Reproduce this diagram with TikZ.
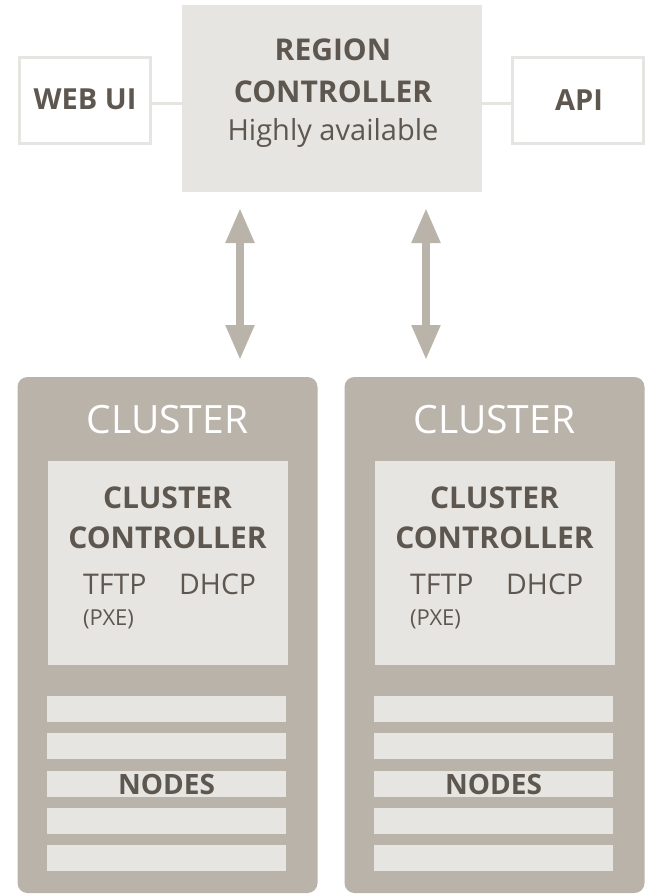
\documentclass[tikz,border=0pt]{standalone}
\usepackage{fontspec}
\setmainfont{Open Sans}
\usetikzlibrary{arrows.meta}
\definecolor{ink}{HTML}{5E574F}
\definecolor{pale}{HTML}{E7E5E2}
\definecolor{stone}{HTML}{B9B3AA}
\tikzset{
  panel/.style={fill=pale, draw=none, inner sep=0pt},
  sidebox/.style={draw=pale, line width=3pt, fill=white, inner sep=0pt,
    minimum width=131pt, minimum height=86pt},
  clusterbox/.style={fill=stone, draw=none, rounded corners=10pt, inner sep=0pt,
    minimum width=300pt, minimum height=516pt},
  ctrlbox/.style={panel, minimum width=240pt, minimum height=204pt},
  bar/.style={panel, minimum width=239pt, minimum height=26pt},
  link/.style={draw=pale, line width=3pt},
  bigarrow/.style={draw=stone, line width=8pt,
    {Triangle[width=27pt,length=35pt]}-{Triangle[width=27pt,length=35pt]}},
  lbl/.style={text=ink, inner sep=0pt, anchor=base},
  title/.style={lbl, font=\bfseries\fontsize{30}{36}\selectfont},
  plain/.style={lbl, font=\fontsize{29}{34}\selectfont},
}
\begin{document}
\begin{tikzpicture}[x=1pt,y=-1pt]
\useasboundingbox (0,0) rectangle (646,896);
\fill[white] (0,0) rectangle (646,896);

% region controller with its two front ends
\node[panel, minimum width=300pt, minimum height=187pt] (region) at (332,98.5) {};
\node[sidebox] (webui) at (85,101) {};
\node[sidebox] (api) at (577.5,101) {};
\draw[link] ([yshift=-3pt]webui.east) -- ([yshift=-3pt]webui.east -| region.west);
\draw[link] ([yshift=-3pt]api.west -| region.east) -- ([yshift=-3pt]api.west);
\node[lbl, font=\bfseries\fontsize{29}{34}\selectfont] (webuitext) at (85,110) {WEB UI};
\node[lbl, font=\bfseries\fontsize{29}{34}\selectfont] (apitext) at (579,111) {API};
\node[title] (regiontitle) at (333,61) {REGION};
\node[title] (regionsub) at (333,103) {CONTROLLER};
\node[plain] (regionnote) at (333,141) {Highly available};

% links between region and clusters
\coordinate (upA) at (240,208);
\coordinate (downA) at (240,360);
\coordinate (upB) at (426,208);
\coordinate (downB) at (426,360);
\draw[bigarrow] (upA) -- (downA);
\draw[bigarrow] (upB) -- (downB);

% two identical clusters
\foreach \cx/\nm in {167.5/A, 494.5/B}{
  \node[clusterbox] (cluster\nm) at (\cx,635) {};
  \node[lbl, text=white, font=\fontsize{39}{44}\selectfont] (clustertitle\nm)
    at (\cx,433) {CLUSTER};
  \node[ctrlbox] (ctrl\nm) at (\cx,563) {};
  \node[title] (ctrltitle\nm) at (\cx,508) {CLUSTER};
  \node[title] (ctrlsub\nm) at (\cx,548) {CONTROLLER};
  \node[lbl, font=\fontsize{28.5}{32}\selectfont, anchor=base west] (tftp\nm)
    at (\cx-84.5,594) {TFTP};
  \node[lbl, font=\fontsize{28.5}{32}\selectfont, anchor=base west] (dhcp\nm)
    at (\cx+11.5,594) {DHCP};
  \node[lbl, font=\fontsize{22}{26}\selectfont, anchor=base west] (pxe\nm)
    at (\cx-84.5,625) {(PXE)};
  \foreach \i/\y in {1/709, 2/746, 3/783.5, 4/820.5, 5/858}{
    \node[bar] (bar\nm\i) at (\cx-1,\y) {};
  }
  \node[lbl, font=\bfseries\fontsize{28}{32}\selectfont] (nodes\nm) at (\cx-1,794) {NODES};
}
\end{tikzpicture}
\end{document}
